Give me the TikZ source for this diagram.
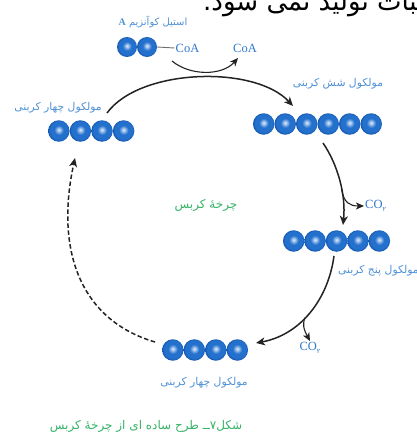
\documentclass[tikz,border=0pt]{standalone}
\usepackage{fontspec}
\setmainfont{Liberation Serif}
\newfontfamily\fa[Script=Arabic]{DejaVu Sans}
\TeXXeTstate=1
\usetikzlibrary{arrows.meta}
\definecolor{lblue}{RGB}{80,145,215}
\definecolor{coablue}{RGB}{50,120,205}
\definecolor{kgreen}{RGB}{55,180,105}
\definecolor{arrowc}{RGB}{35,35,35}
\definecolor{linkgray}{RGB}{110,110,110}
\definecolor{sphhi}{RGB}{225,238,252}
\definecolor{sphmid}{RGB}{35,112,205}
\definecolor{sphdark}{RGB}{22,88,175}
\pgfdeclareradialshading{sphere}{\pgfpoint{0bp}{3bp}}{color(0bp)=(sphhi); color(11bp)=(sphmid); color(21bp)=(sphmid); color(25bp)=(sphdark); color(50bp)=(sphdark)}
\tikzset{
  ball/.style={circle, minimum size=21.5pt, inner sep=0pt, shading=sphere},
  smallball/.style={ball, minimum size=20pt},
  lbl/.style={font=\fa\fontsize{10.8}{12}\selectfont, text=lblue, inner sep=1pt},
  coa/.style={font=\fontsize{12.5}{14}\selectfont, text=coablue, inner sep=1pt},
  green/.style={font=\fa\fontsize{12}{14}\selectfont, text=kgreen, inner sep=1pt},
  arr/.style={draw=arrowc, line width=1.5pt, -{Stealth[length=9pt,width=8pt,inset=2.5pt]}},
  arrsm/.style={draw=arrowc, line width=1.1pt, -{Stealth[length=8pt,width=7pt,inset=2pt]}},
  dasharr/.style={arr, dash pattern=on 4.5pt off 2.5pt}
}
\begin{document}
\begin{tikzpicture}[x=1pt,y=-1pt]
\useasboundingbox (0,0) rectangle (417,436);
\clip (0,0) rectangle (417,436);
\fill[white] (0,0) rectangle (417,436);

% cut-off heading text at the top
\node[anchor=base west, font=\fa\fontsize{26}{30}\selectfont, inner sep=0pt] (toptext) at (203,11) {\beginR ترکیبات تولید نمی شود.\endR};

% acetyl coenzyme A
\node[lbl, font=\fa\fontsize{10}{12}\selectfont] (acetyl) at (153,22) {\beginR استیل کوآنزیم \beginL\fontspec{Liberation Serif}\bfseries A\endL\endR};
\node[smallball] (ac1) at (127,47) {};
\node[smallball] (ac2) at (147,47) {};
\node[coa] (coa1) at (187.5,48) {CoA};
\node[coa] (coa2) at (245,48) {CoA};
\draw[linkgray, line width=0.9pt] (ac2.east) -- (coa1.west);
\coordinate (cs) at (172,61);
\coordinate (ce) at (238,58);
\draw[arrsm] (cs) .. controls (190,76) and (222,76) .. (ce);

% four-carbon (top left)
\foreach \i in {0,...,3} \node[ball] (fa\i) at (58.8+21.6*\i,131) {};
\node[lbl] (falbl) at (58,108) {\beginR مولکول چهار کربنی\endR};

% six-carbon
\foreach \i in {0,...,5} \node[ball] (six\i) at (263.7+21.5*\i,124) {};
\node[lbl] (sixlbl) at (338,84) {\beginR مولکول شش کربنی\endR};

% five-carbon
\foreach \i in {0,...,4} \node[ball] (five\i) at (293.7+21.4*\i,241) {};
\node[lbl, anchor=west] (fivelbl) at (337,271) {\beginR مولکول پنج کربنی\endR};

% four-carbon (bottom)
\foreach \i in {0,...,3} \node[ball] (fb\i) at (172.8+21.5*\i,350) {};
\node[lbl] (fblbl) at (204,383) {\beginR مولکول چهار کربنی\endR};

% centre and caption
\node[green] (krebs) at (206,205) {\beginR چرخهٔ کربس\endR};
\node[green] (caption) at (146,426) {\beginR شکل۷ــ طرح ساده ای از چرخهٔ کربس\endR};

% CO2 labels
\node[coa, anchor=west] (co2a) at (364,206) {CO\raisebox{-3pt}{\fa\fontsize{6.5}{7}\selectfont ۲}};
\node[coa, anchor=north] (co2b) at (310,341) {CO\raisebox{-3pt}{\fa\fontsize{6.5}{7}\selectfont ۲}};

% main cycle
\coordinate (a1s) at (107,113);
\coordinate (a1e) at (293,106);
\draw[arr] (a1s) .. controls (140,68) and (255,65) .. (a1e);

\coordinate (a2s) at (323,143);
\coordinate (a2e) at (343,225);
\draw[arr] (a2s) .. controls (338,165) and (346,195) .. (a2e) coordinate[pos=0.6] (b2);
\draw[arrsm] (b2) .. controls (344,203) and (350,206) .. (co2a.west);

\coordinate (a3s) at (334,256);
\coordinate (a3e) at (256,343);
\draw[arr] (a3s) .. controls (328,300) and (300,335) .. (a3e) coordinate[pos=0.55] (b3);
\draw[arrsm] (b3) .. controls (302,325) and (304,330) .. (co2b.north);

\coordinate (a4s) at (155,342);
\coordinate (a4e) at (75,158);
\draw[dasharr] (a4s) .. controls (80,320) and (55,250) .. (a4e);
\end{tikzpicture}
\end{document}
